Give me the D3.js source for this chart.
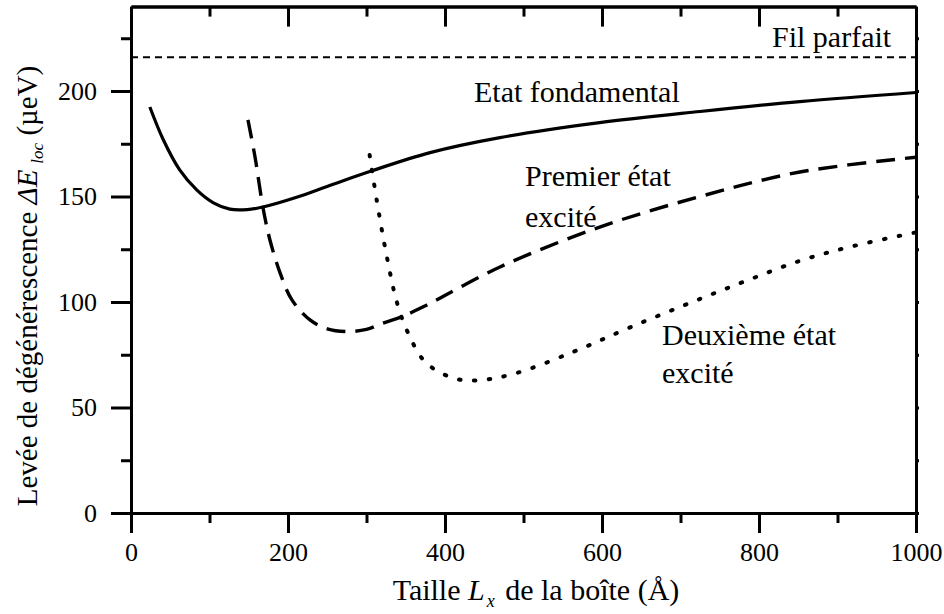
<!DOCTYPE html>
<html>
<head>
<meta charset="utf-8">
<script src="https://cdn.jsdelivr.net/npm/d3@7"></script>
<style>
  html, body { margin: 0; padding: 0; background: #fff; }
  svg { display: block; }
</style>
</head>
<body>
<svg id="chart" width="944" height="614"></svg>
<script>
// ---- data ----
const xMajorTicks = [0, 200, 400, 600, 800, 1000];
const xMinorTicks = [100, 300, 500, 700, 900];
const yMajorTicks = [0, 50, 100, 150, 200];
const yMinorTicks = [25, 75, 125, 175, 225];

const perfectWire = 216;

// Etat fondamental (solid)
const lxGround = [24, 41, 62, 84, 105, 126, 148, 168, 211, 253, 307, 381, 470, 597, 725, 852, 1000];
const eGround  = [192.4, 177, 162.6, 153, 147, 144, 143.8, 145, 149.6, 155.2, 162.2, 170.8, 177.9, 185, 190.3, 195, 199.3];

// Premier état excité (dashed)
const lxFirst = [149, 158, 168, 177, 190, 205, 228, 250, 275, 300, 321, 345, 377, 470, 597, 725, 852, 1000];
const eFirst  = [186.3, 168.7, 145, 129.4, 113.7, 101, 91.5, 87.3, 86, 87, 90, 93, 98.6, 116.6, 135.5, 150, 161.6, 168.6];

// Deuxième état excité (dotted)
const lxSecond = [304, 313, 326, 339, 353, 375, 410, 440, 487, 563, 636, 725, 780, 852, 920, 1000];
const eSecond  = [169.7, 148.3, 121.3, 99.5, 85.3, 71.5, 64, 62.8, 65.9, 76.3, 88, 101.5, 109.5, 119.5, 126.5, 133];

const labels = [
  { lines: ["Fil parfait"], x: 772, y: 47 },
  { lines: ["Etat fondamental"], x: 474, y: 102 },
  { lines: ["Premier état", "excité"], x: 525, y: 186, dy: 41 },
  { lines: ["Deuxième état", "excité"], x: 662, y: 345, dy: 38 }
];

// ---- drawing ----
const FONT = "'Liberation Serif', 'Times New Roman', Tinos, 'DejaVu Serif', serif";
const svg = d3.select("#chart").attr("font-family", FONT);
const x = d3.scaleLinear().domain([0, 1000]).range([131, 916]);
const y = d3.scaleLinear().domain([0, 240]).range([513, 6.6]);

const AX = 3;
const tickFont = 26;

function styleAxis(g) {
  g.attr("font-family", FONT);
  g.selectAll("path.domain").attr("stroke", "#000").attr("stroke-width", AX);
  g.selectAll(".tick line").attr("stroke", "#000").attr("stroke-width", AX);
  g.selectAll(".tick text").attr("font-size", tickFont)
    .attr("font-family", FONT).attr("fill", "#000");
}

// Bottom axis
svg.append("g").attr("transform", `translate(0,${y(0)})`)
  .call(d3.axisBottom(x).tickValues(xMinorTicks).tickSize(10).tickSizeOuter(0).tickFormat(""))
  .call(styleAxis);
svg.append("g").attr("transform", `translate(0,${y(0)})`)
  .call(d3.axisBottom(x).tickValues(xMajorTicks).tickSize(20).tickSizeOuter(0).tickPadding(10).tickFormat(d3.format("d")))
  .call(styleAxis);

// Top axis (inner ticks)
svg.append("g").attr("transform", `translate(0,${y(240)})`)
  .call(d3.axisBottom(x).tickValues(xMinorTicks).tickSize(10).tickSizeOuter(0).tickFormat(""))
  .call(styleAxis);
svg.append("g").attr("transform", `translate(0,${y(240)})`)
  .call(d3.axisBottom(x).tickValues(xMajorTicks).tickSize(20).tickSizeOuter(0).tickFormat(""))
  .call(styleAxis);

// Left axis
svg.append("g").attr("transform", `translate(${x(0)},0)`)
  .call(d3.axisLeft(y).tickValues(yMinorTicks).tickSize(10).tickSizeOuter(0).tickFormat(""))
  .call(styleAxis);
svg.append("g").attr("transform", `translate(${x(0)},0)`)
  .call(d3.axisLeft(y).tickValues(yMajorTicks).tickSize(20).tickSizeOuter(0).tickPadding(14).tickFormat(d3.format("d")))
  .call(styleAxis);

// Right axis (tiny ticks)
svg.append("g").attr("transform", `translate(${x(1000)},0)`)
  .call(d3.axisRight(y).tickValues(yMajorTicks.concat(yMinorTicks)).tickSize(3).tickSizeOuter(0).tickFormat(""))
  .call(styleAxis);

// Fil parfait
svg.append("line")
  .attr("x1", x(0)).attr("x2", x(1000))
  .attr("y1", y(perfectWire)).attr("y2", y(perfectWire))
  .attr("stroke", "#000").attr("stroke-width", 2).attr("stroke-dasharray", "7,5");

const line = d3.line().x(d => x(d[0])).y(d => y(d[1])).curve(d3.curveCatmullRom.alpha(0.5));

svg.append("path").attr("d", line(d3.zip(lxGround, eGround)))
  .attr("fill", "none").attr("stroke", "#000").attr("stroke-width", 3.2);
svg.append("path").attr("d", line(d3.zip(lxFirst, eFirst)))
  .attr("fill", "none").attr("stroke", "#000").attr("stroke-width", 3.4)
  .attr("stroke-dasharray", "19,10");
svg.append("path").attr("d", line(d3.zip(lxSecond, eSecond)))
  .attr("fill", "none").attr("stroke", "#000").attr("stroke-width", 4)
  .attr("stroke-linecap", "round").attr("stroke-dasharray", "1.5,13.5");

// Annotations
labels.forEach(l => {
  l.lines.forEach((t, i) => {
    svg.append("text").attr("x", l.x).attr("y", l.y + i * (l.dy || 0))
      .attr("font-family", FONT).attr("font-size", 30).attr("fill", "#000").text(t);
  });
});

// X axis title
const xt = svg.append("text").attr("x", 536).attr("y", 600)
  .attr("text-anchor", "middle").attr("font-family", FONT).attr("font-size", 30).attr("fill", "#000");
xt.append("tspan").text("Taille ");
xt.append("tspan").attr("font-style", "italic").text("L");
xt.append("tspan").attr("font-style", "italic").attr("font-size", 18).attr("dx", 2).attr("dy", 7).text("x");
xt.append("tspan").attr("dx", 3).attr("dy", -7).text(" de la boîte (Å)");

// Y axis title
const yt = svg.append("text")
  .attr("transform", "translate(37,286) rotate(-90)")
  .attr("text-anchor", "middle").attr("font-family", FONT).attr("font-size", 29).attr("fill", "#000");
yt.append("tspan").text("Levée de dégénérescence ");
yt.append("tspan").attr("font-style", "italic").text("ΔE");
yt.append("tspan").attr("font-style", "italic").attr("font-size", 17).attr("dx", 6).attr("dy", 6).text("loc");
yt.append("tspan").attr("dy", -6).text(" (µeV)");
</script>
</body>
</html>
